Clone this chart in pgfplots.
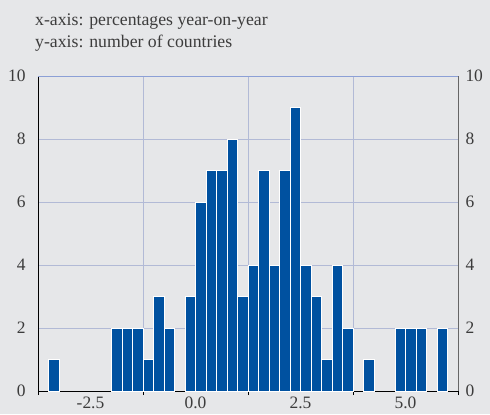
\documentclass[border=0pt]{standalone}
\usepackage{pgfplots}
\pgfplotsset{compat=1.18}
\usepackage{fontspec}
\setmainfont{Liberation Serif}
\definecolor{bg}{RGB}{230,231,233}
\definecolor{barblue}{RGB}{0,81,160}
\definecolor{gridc}{RGB}{178,186,214}
\definecolor{topc}{RGB}{140,160,214}
\definecolor{txt}{RGB}{60,60,60}
\begin{document}
\begin{tikzpicture}[x=1bp,y=1bp]
\fill[bg] (0,0) rectangle (490,414);
\path[use as bounding box] (0,0) rectangle (490,414);
\node[anchor=base west,text=txt,font=\fontsize{17.8}{19}\selectfont,inner sep=0pt] at (35,388) {x-axis: percentages year-on-year};
\node[anchor=base west,text=txt,font=\fontsize{17.8}{19}\selectfont,inner sep=0pt] at (35,367) {y-axis: number of countries};
\begin{axis}[
  at={(38bp,23bp)}, anchor=south west,
  scale only axis, width=420bp, height=315bp,
  xmin=-3.75, xmax=6.25, ymin=0, ymax=10,
  axis x line*=bottom, axis y line*=left,
  axis line style={black, line width=0.8pt},
  x axis line style={-},
  y axis line style={-},
  /pgf/number format/assume math mode=true,
  xtick={-3.75,-1.25,1.25,3.75,6.25}, xticklabels={},
  xtick pos=bottom, tick align=outside,
  major tick length=4bp,
  xtick style={black, line width=0.8pt},
  extra x ticks={-2.5,0,2.5,5},
  extra x tick labels={-2.5,0.0,2.5,5.0},
  extra x tick style={major tick length=0pt, xmajorgrids=false},
  xmajorgrids, ymajorgrids,
  grid style={gridc, line width=0.9pt},
  ytick={0,2,4,6,8,10},
  ytick style={draw=none},
  ticklabel style={font=\fontsize{17.5}{19}\selectfont, text=txt},
  yticklabel style={xshift=-5bp},
  xticklabel style={yshift=-2bp},
  ybar, bar width=10.5bp, bar shift=0pt,
]
\addplot[fill=barblue, draw=white, line width=0.6pt] coordinates {
(-3.375,1)
(-1.875,2) (-1.625,2) (-1.375,2)
(-1.125,1) (-0.875,3) (-0.625,2)
(-0.125,3) (0.125,6) (0.375,7) (0.625,7) (0.875,8) (1.125,3)
(1.375,4) (1.625,7) (1.875,4) (2.125,7) (2.375,9) (2.625,4)
(2.875,3) (3.125,1) (3.375,4) (3.625,2)
(4.125,1)
(4.875,2) (5.125,2) (5.375,2)
(5.875,2)
};
\draw[topc, line width=0.9pt] (axis cs:-3.75,10) -- (axis cs:6.25,10);
\end{axis}
\begin{axis}[
  at={(38bp,23bp)}, anchor=south west,
  scale only axis, width=420bp, height=315bp,
  xmin=-3.75, xmax=6.25, ymin=0, ymax=10,
  axis x line=none, axis y line*=right,
  axis line style={black!60, line width=0.8pt},
  y axis line style={-},
  /pgf/number format/assume math mode=true,
  ytick={0,2,4,6,8,10},
  ytick style={draw=none},
  ticklabel style={font=\fontsize{17.5}{19}\selectfont, text=txt},
  yticklabel style={xshift=4bp},
]
\addplot[draw=none] coordinates {(0,0)};
\end{axis}
\end{tikzpicture}
\end{document}
